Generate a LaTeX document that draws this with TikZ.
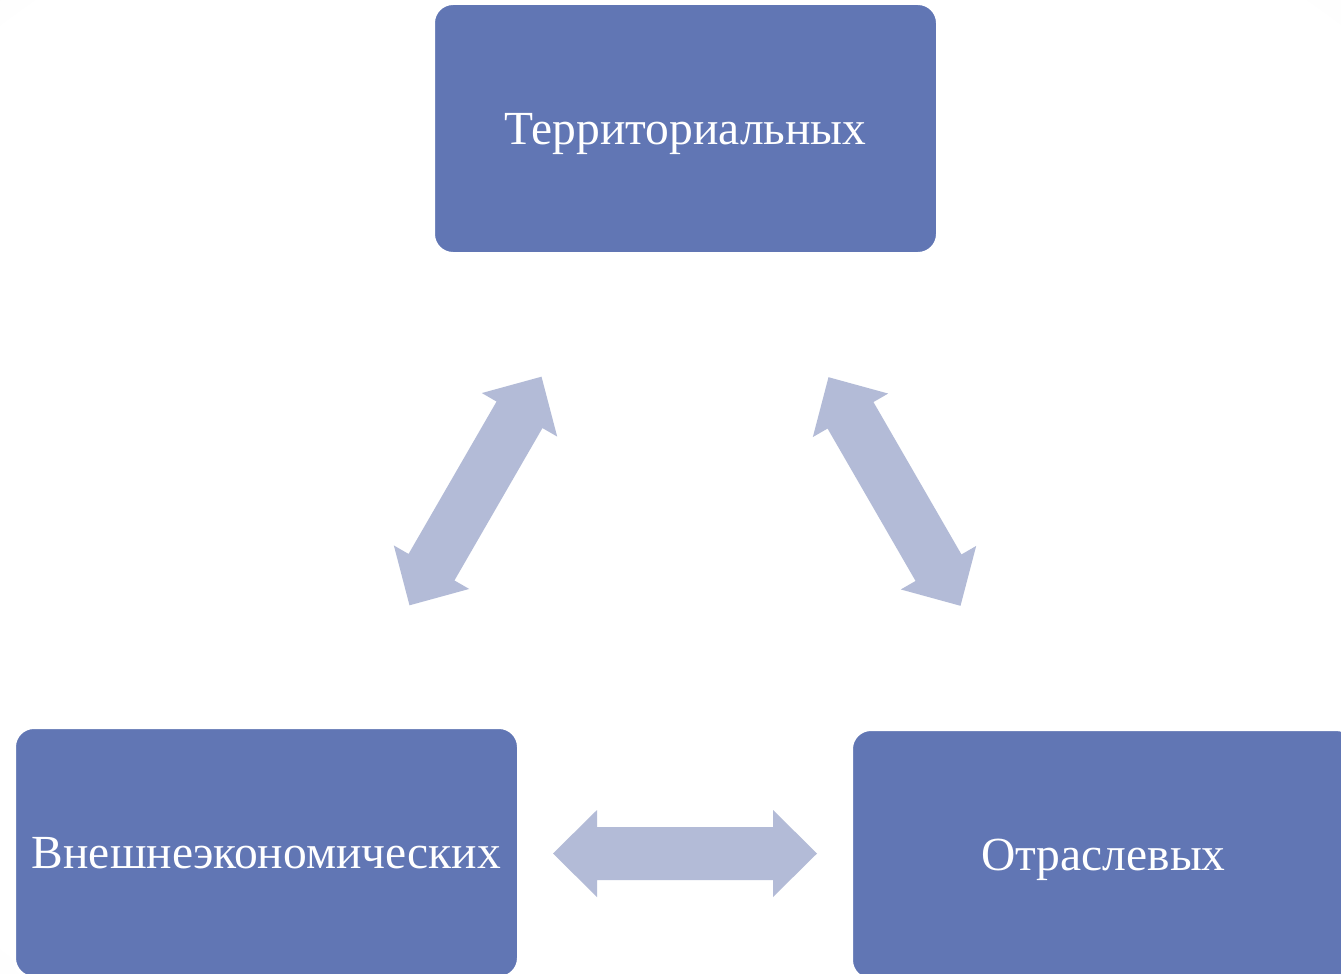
\documentclass[tikz,border=0pt]{standalone}
\usepackage{fontspec}
\setmainfont{Liberation Serif}
\usepackage{tikz}
\usetikzlibrary{calc}
\definecolor{boxColor}{RGB}{97,118,180}
\definecolor{arrowColor}{RGB}{179,187,215}
\pgfdeclareradialshading{slideGlow}{\pgfpoint{0bp}{0bp}}{color(0bp)=(white); color(34bp)=(white); color(50bp)=(black!7); color(71bp)=(black!13)}
\newcommand{\headLen}{44pt}
\newcommand{\headHalf}{43.5pt}
\newcommand{\shaftHalf}{26.5pt}
\tikzstyle{slide} = [x = 1pt, y = -1pt]
\tikzstyle{levelBox} = [draw=white, line width=4pt, fill=boxColor, rounded corners = 20pt, minimum width=505pt, minimum height=251pt, text=white, font=\fontsize{47.5}{56}\selectfont, text height=31.5pt, text depth=0pt, inner sep=0pt]
\tikzstyle{blockArrow} = [fill=arrowColor, draw=none, to path={
  -- ($ ($(\tikztostart)!\headLen!(\tikztotarget)$)!\headHalf!90:(\tikztotarget) $)
  -- ($ ($(\tikztostart)!\headLen!(\tikztotarget)$)!\shaftHalf!90:(\tikztotarget) $)
  -- ($ ($(\tikztotarget)!\headLen!(\tikztostart)$)!\shaftHalf!-90:(\tikztostart) $)
  -- ($ ($(\tikztotarget)!\headLen!(\tikztostart)$)!\headHalf!-90:(\tikztostart) $)
  -- (\tikztotarget)
  -- ($ ($(\tikztotarget)!\headLen!(\tikztostart)$)!\headHalf!90:(\tikztostart) $)
  -- ($ ($(\tikztotarget)!\headLen!(\tikztostart)$)!\shaftHalf!90:(\tikztostart) $)
  -- ($ ($(\tikztostart)!\headLen!(\tikztotarget)$)!\shaftHalf!-90:(\tikztotarget) $)
  -- ($ ($(\tikztostart)!\headLen!(\tikztotarget)$)!\headHalf!-90:(\tikztotarget) $)
  -- cycle}]
\begin{document}
\begin{tikzpicture}[slide]
        \clip (0,0) rectangle (1341,974);
        \shade [shading=slideGlow] (0,0) rectangle (1341,974);

        \node [levelBox] (terr) at (685.5,128.5) {Территориальных};
        \node [levelBox] (ext) at (266.5,852.5) {Внешнеэкономических};
        \node [levelBox] (otr) at (1103.5,854.5) {Отраслевых};

        \coordinate (terrToExt) at (541.5,376.7);
        \coordinate (extToTerr) at (409.5,605.3);
        \coordinate (terrToOtr) at (828.5,377.2);
        \coordinate (otrToTerr) at (960.5,605.8);
        \coordinate (extToOtr) at (553,853.5);
        \coordinate (otrToExt) at (817,853.5);

        \path [blockArrow] (extToTerr) to (terrToExt);
        \path [blockArrow] (terrToOtr) to (otrToTerr);
        \path [blockArrow] (extToOtr) to (otrToExt);
      \end{tikzpicture}
\end{document}
